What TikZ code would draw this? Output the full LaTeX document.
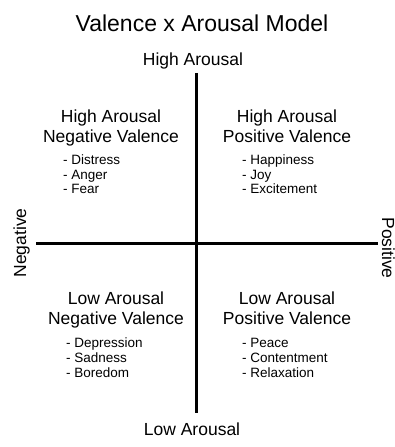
\documentclass[tikz,border=0pt]{standalone}
\usepackage{fontspec}
\setmainfont{Liberation Sans}
\begin{document}
\begin{tikzpicture}[x=1pt,y=1pt,
  title/.style={font=\fontsize{23}{27}\selectfont, anchor=base, inner sep=0},
  axislabel/.style={font=\fontsize{17.5}{20}\selectfont, anchor=base, inner sep=0},
  heading/.style={font=\fontsize{17.5}{20}\selectfont, anchor=base, inner sep=0},
  item/.style={font=\fontsize{13.5}{15}\selectfont, anchor=base west, inner sep=0},
  axis/.style={line width=3pt}]
\useasboundingbox (0,0) rectangle (395,447);

% title
\node[title] (title) at (202,415) {Valence x Arousal Model};

% axes and their labels
\node[axislabel] (high) at (193,381) {High Arousal};
\node[axislabel] (low) at (192,11) {Low Arousal};
\node[axislabel, rotate=90] (neg) at (26,204) {Negative};
\node[axislabel, rotate=-90] (pos) at (382,199) {Positive};
\coordinate (vtop) at (196,374);
\coordinate (vbot) at (196,34);
\coordinate (hleft) at (36,203);
\coordinate (hright) at (378,203);
\draw[axis] (vtop) -- (vbot);
\draw[axis] (hleft) -- (hright);

% upper left quadrant
\node[heading] (ulA) at (111,324) {High Arousal};
\node[heading] (ulB) at (111,304) {Negative Valence};
\node[item] (ul1) at (63,282) {- Distress};
\node[item] (ul2) at (63,267) {- Anger};
\node[item] (ul3) at (63,253) {- Fear};

% upper right quadrant
\node[heading] (urA) at (287,324) {High Arousal};
\node[heading] (urB) at (287,304) {Positive Valence};
\node[item] (ur1) at (242,282) {- Happiness};
\node[item] (ur2) at (242,267) {- Joy};
\node[item] (ur3) at (242,253) {- Excitement};

% lower left quadrant
\node[heading] (llA) at (116,142) {Low Arousal};
\node[heading] (llB) at (116,122) {Negative Valence};
\node[item] (ll1) at (66,99) {- Depression};
\node[item] (ll2) at (66,84) {- Sadness};
\node[item] (ll3) at (66,69) {- Boredom};

% lower right quadrant
\node[heading] (lrA) at (287,142) {Low Arousal};
\node[heading] (lrB) at (287,122) {Positive Valence};
\node[item] (lr1) at (242,99) {- Peace};
\node[item] (lr2) at (242,84) {- Contentment};
\node[item] (lr3) at (242,69) {- Relaxation};
\end{tikzpicture}
\end{document}
